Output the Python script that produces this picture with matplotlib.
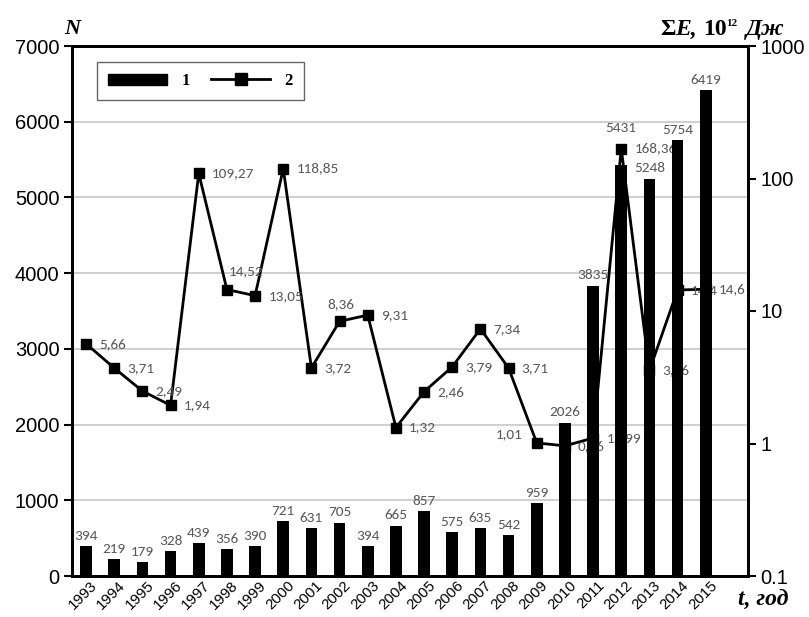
import matplotlib
matplotlib.use("Agg")
import matplotlib.pyplot as plt
from matplotlib import font_manager
from matplotlib.transforms import blended_transform_factory
from matplotlib.patches import Patch
from matplotlib.lines import Line2D
import numpy as np

# ---- data -------------------------------------------------------------
years = list(range(1993, 2016))
counts = [394, 219, 179, 328, 439, 356, 390, 721, 631, 705, 394, 665,
          857, 575, 635, 542, 959, 2026, 3835, 5431, 5248, 5754, 6419]
energy = [5.66, 3.71, 2.49, 1.94, 109.27, 14.52, 13.05, 118.85, 3.72, 8.36,
          9.31, 1.32, 2.46, 3.79, 7.34, 3.71, 1.01, 0.96, 1.099, 168.36,
          3.56, 14.4, 14.6]
left_ticks = [0, 1000, 2000, 3000, 4000, 5000, 6000, 7000]
right_ticks = [0.1, 1, 10, 100, 1000]
right_tick_labels = ["0.1", "1", "10", "100", "1000"]
legend_labels = ["1", "2"]

# label placement for the energy series (offset in points, alignment)
default_off = ((9.5, 0), "left")
special_off = {5: ((1, 13), "left"), 9: ((-9, 12), "left"), 16: ((-10, 6), "right")}
# extra lift for count labels that would sit on a marker
count_lift = {19: 19}


def pick(names):
    for n in names:
        try:
            font_manager.findfont(n, fallback_to_default=False)
            return n
        except Exception:
            pass
    return "DejaVu Sans"


SANS = pick(["Liberation Sans", "Arial"])
LABEL = pick(["Carlito", "Lato", "Open Sans"])
SERIF = pick(["Liberation Serif", "DejaVu Serif"])
GREY = "#585858"

W, H = 809, 617
fig = plt.figure(figsize=(W / 100, H / 100), dpi=100)
x0, x1, y0, y1 = 72, 748, 46, 576
rect = [x0 / W, 1 - y1 / H, (x1 - x0) / W, (y1 - y0) / H]

ax_line = fig.add_axes(rect)          # log energy axis (drawn underneath)
ax_bar = ax_line.twinx()              # event counts (drawn on top)
ax_bar.set_zorder(ax_line.get_zorder() + 1)
ax_bar.patch.set_visible(False)

x = np.arange(len(years))
xlim = (-0.5, len(years) + 0.5)

# ---- counts axis (left) ---------------------------------------------------
ax_bar.yaxis.tick_left()
ax_bar.set_ylim(0, 7000)
ax_bar.set_yticks(left_ticks)
ax_bar.set_yticklabels([str(t) for t in left_ticks], fontfamily=SANS, fontsize=14.5)
ax_bar.bar(x, counts, width=0.42, color="black", zorder=3)
for i, (xi, c) in enumerate(zip(x, counts)):
    ax_bar.annotate(str(c), (xi, c), xytext=(0, 3 + count_lift.get(i, 0)),
                    textcoords="offset points", ha="center", va="bottom",
                    fontsize=11, color=GREY, fontfamily=LABEL, zorder=4)

# ---- energy axis (right, log) ---------------------------------------------
ax_line.yaxis.tick_right()
ax_line.set_yscale("log")
ax_line.set_ylim(0.1, 1000)
ax_line.set_yticks(right_ticks)
ax_line.set_yticklabels(right_tick_labels, fontfamily=SANS, fontsize=14.5)
ax_line.yaxis.set_minor_locator(matplotlib.ticker.NullLocator())

# horizontal grid at the count ticks
gtr = blended_transform_factory(ax_line.transAxes, ax_bar.transData)
for t in left_ticks[1:]:
    ax_line.plot([0, 1], [t, t], transform=gtr, color="#cccccc", lw=1.3, zorder=0)

ax_line.plot(x, energy, color="black", lw=2, marker="s", markersize=7.2,
             zorder=2)
for i, (xi, e) in enumerate(zip(x, energy)):
    (dx, dy), ha = special_off.get(i, default_off)
    ax_line.annotate(f"{e:g}".replace(".", ","), (xi, e), xytext=(dx, dy),
                     textcoords="offset points", ha=ha, va="center",
                     fontsize=11, color=GREY, fontfamily=LABEL, zorder=2)

# ---- x axis -----------------------------------------------------------
for a in (ax_line, ax_bar):
    a.set_xlim(*xlim)
ax_bar.set_xticks(np.arange(len(years) + 2) - 0.5)
ax_bar.set_xticklabels([])
ax_line.set_xticks([])
xtr = blended_transform_factory(ax_bar.transData, ax_bar.transAxes)
for xi, yr in zip(x, years):
    ax_bar.annotate(str(yr), (xi, 0), xycoords=xtr, xytext=(6.5, -5.5),
                    textcoords="offset points", rotation=45, ha="right",
                    va="center", rotation_mode="anchor", fontfamily=SANS,
                    fontsize=10.8, annotation_clip=False)

ax_bar.tick_params(axis="both", which="major", direction="out", length=6,
                   width=1.5, color="black", pad=3)
ax_line.tick_params(axis="y", which="major", direction="out", length=6,
                    width=1.5, color="black", pad=3)

for a in (ax_line, ax_bar):
    for s in a.spines.values():
        s.set_linewidth(2)
        s.set_color("black")

# ---- legend -------------------------------------------------------------
handles = [Patch(facecolor="black", edgecolor="black"),
           Line2D([], [], color="black", lw=2, marker="s", markersize=8)]
leg = ax_bar.legend(handles, legend_labels, loc="upper left",
                    bbox_to_anchor=((97 - x0) / (x1 - x0), (y1 - 62) / (y1 - y0)),
                    borderaxespad=0, ncol=2, frameon=True, fancybox=False,
                    handlelength=3.55, handleheight=0.66, handletextpad=0.84,
                    columnspacing=1.3, borderpad=0.66,
                    prop={"family": SERIF, "weight": "bold", "size": 12})
leg.get_frame().set_edgecolor("#404040")
leg.get_frame().set_linewidth(1)

# ---- axis titles ----------------------------------------------------------
def fx(px):
    return px / W


def fy(py):
    return 1 - py / H


tstyle = dict(family=SERIF, weight="bold", fontsize=17)
fig.text(fx(64), fy(34), "N", style="italic", va="baseline", fontsize=16,
         family=SERIF, weight="bold")
t1 = fig.text(fx(660), fy(35), "Σ", va="baseline", **tstyle)
t2 = ax_bar.annotate("E, ", xy=(1, 0), xycoords=t1, va="bottom", ha="left",
                     style="italic", annotation_clip=False, **tstyle)
t3 = ax_bar.annotate("10", xy=(1, 0), xycoords=t2, va="bottom", ha="left",
                     annotation_clip=False, **tstyle)
t4 = ax_bar.annotate("12", xy=(1, 0.55), xycoords=t3, va="bottom", ha="left",
                     family=SERIF, weight="bold", fontsize=8,
                     annotation_clip=False)
ax_bar.annotate("Дж", xy=(1, 0), xycoords=t3, xytext=(14, 0),
                textcoords="offset points", va="bottom", ha="left",
                style="italic", annotation_clip=False, **tstyle)
fig.text(fx(738), fy(606), "t, год", style="italic", va="baseline", **tstyle)

fig.savefig("out.png", dpi=100)
